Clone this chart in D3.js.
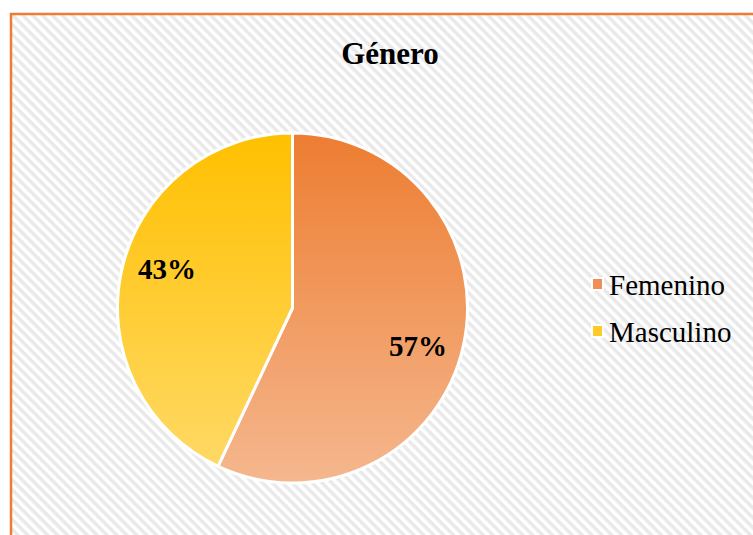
<!DOCTYPE html>
<html>
<head>
<meta charset="utf-8">
<script src="https://cdn.jsdelivr.net/npm/d3@7"></script>
</head>
<body style="margin:0;overflow:hidden">
<div id="chart"></div>
<script>
// Chart data
const categories = ["Femenino", "Masculino"];
const values = [57, 43];
const labels = ["57%", "43%"];
const chartTitle = "Género";

const FONT = "Liberation Serif";
const width = 753, height = 535;
const svg = d3.select("#chart").append("svg")
    .attr("width", width)
    .attr("height", height)
    .attr("font-family", FONT)
    .style("display", "block");

const defs = svg.append("defs");

// diagonal stripe background
const pat = defs.append("pattern")
    .attr("id", "stripes")
    .attr("width", 7)
    .attr("height", 7)
    .attr("patternUnits", "userSpaceOnUse")
    .attr("patternTransform", "rotate(45)");
pat.append("rect").attr("width", 7).attr("height", 7).attr("fill", "#ffffff");
pat.append("rect").attr("width", 7).attr("height", 3.5).attr("fill", "#e9e9e9");

// vertical gradients for slices
const gradColors = {
    "Femenino": ["#ED7D31", "#F5B78E"],
    "Masculino": ["#FFC000", "#FFDA6A"]
};
const legendColors = { "Femenino": "#EE8F58", "Masculino": "#FFC928" };
const cx = 292.5, cy = 308, r = 175;
categories.forEach((c, i) => {
    const g = defs.append("linearGradient")
        .attr("id", "grad" + i)
        .attr("gradientUnits", "userSpaceOnUse")
        .attr("x1", 0).attr("y1", -r)
        .attr("x2", 0).attr("y2", r);
    g.append("stop").attr("offset", "0%").attr("stop-color", gradColors[c][0]);
    g.append("stop").attr("offset", "100%").attr("stop-color", gradColors[c][1]);
});

// chart area
svg.append("rect")
    .attr("x", 11).attr("y", 14)
    .attr("width", 780).attr("height", 560)
    .attr("fill", "url(#stripes)")
    .attr("stroke", "#ED7D31")
    .attr("stroke-width", 2.5);

svg.append("text")
    .attr("x", 390)
    .attr("y", 64)
    .attr("text-anchor", "middle")
    .attr("font-weight", "bold")
    .attr("font-size", 31)
    .text(chartTitle);

const pie = d3.pie().sort(null).value(d => d);
const arcs = pie(values);
const arc = d3.arc().innerRadius(0).outerRadius(r);
const labelArc = d3.arc().innerRadius(r * 0.75).outerRadius(r * 0.75);
// Excel nudges the data labels a little clockwise
const nudge = 4.5 * Math.PI / 180;

const g = svg.append("g").attr("transform", `translate(${cx},${cy})`);

g.selectAll("path.slice")
    .data(arcs)
    .enter()
    .append("path")
    .attr("class", "slice")
    .attr("d", arc)
    .attr("fill", (d, i) => `url(#grad${i})`)
    .attr("stroke", "#ffffff")
    .attr("stroke-width", 3)
    .attr("stroke-linejoin", "round");

g.selectAll("text.pct")
    .data(arcs)
    .enter()
    .append("text")
    .attr("class", "pct")
    .attr("transform", d => {
        const p = labelArc.centroid({ startAngle: d.startAngle + nudge, endAngle: d.endAngle + nudge });
        return `translate(${p[0]},${p[1]})`;
    })
    .attr("text-anchor", "middle")
    .attr("dy", "0.34em")
    .attr("font-weight", "bold")
    .attr("font-size", 29)
    .text((d, i) => labels[i]);

// legend
const legend = svg.append("g").attr("transform", "translate(593,284)");
categories.forEach((c, i) => {
    const row = legend.append("g").attr("transform", `translate(0,${i * 47})`);
    row.append("rect")
        .attr("x", -2).attr("y", -7)
        .attr("width", 13).attr("height", 14)
        .attr("fill", "#ffffff");
    row.append("rect")
        .attr("x", 0).attr("y", -5)
        .attr("width", 9).attr("height", 10)
        .attr("fill", legendColors[c]);
    row.append("text")
        .attr("x", 16)
        .attr("y", 11)
        .attr("font-size", 29)
        .text(c);
});
</script>
</body>
</html>
